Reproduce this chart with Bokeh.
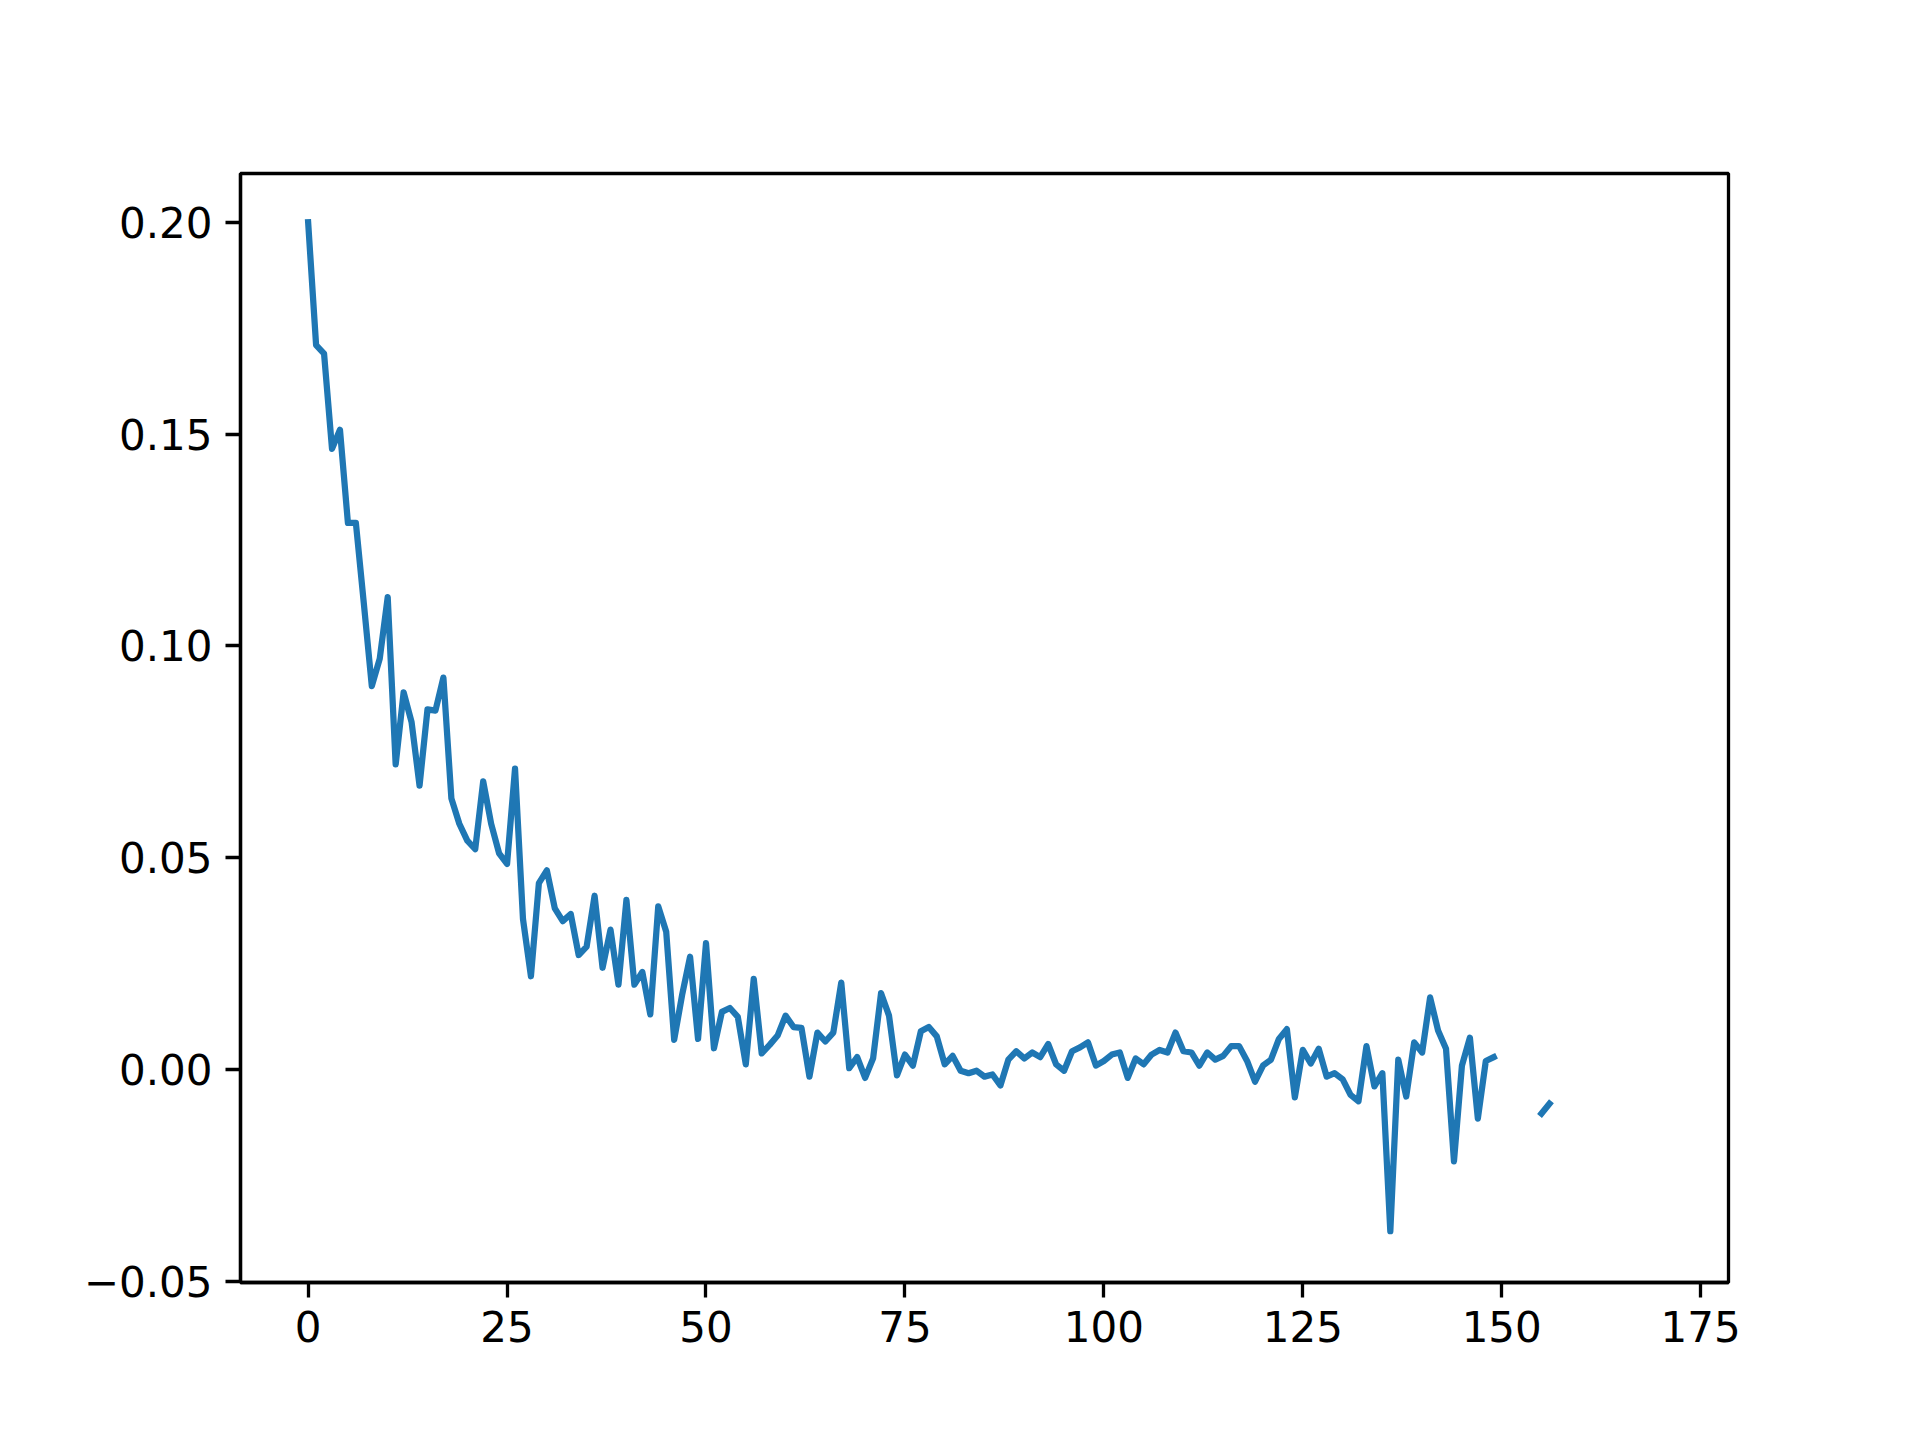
import math
from bokeh.plotting import figure
from bokeh.models import FixedTicker, Range1d
from bokeh.embed import file_html
from bokeh.resources import INLINE

nan = float("nan")

# Series values (index 0..170; gaps are NaN)
values_a = [
    0.200, 0.171, 0.169, 0.1465, 0.151, 0.129, 0.129, 0.110, 0.0905, 0.097,
    0.1115, 0.072, 0.089, 0.082, 0.067, 0.085, 0.0847, 0.0925, 0.064, 0.058,
    0.054, 0.052, 0.068, 0.058, 0.051, 0.0485, 0.071, 0.0355, 0.022, 0.044,
    0.047, 0.038, 0.035, 0.0367, 0.027, 0.029, 0.041, 0.024, 0.033, 0.020,
    0.040, 0.020, 0.023, 0.013, 0.0385, 0.0325, 0.007, 0.0176, 0.0266, 0.0072,
    0.0298, 0.005, 0.0136, 0.0145, 0.0124, 0.0012, 0.0214, 0.0038, 0.0058, 0.008,
    0.0127, 0.010, 0.0098, -0.0017, 0.0087, 0.0066, 0.0087, 0.0205, 0.0003, 0.0029,
    -0.002, 0.0026, 0.018, 0.0127, -0.0014, 0.0035, 0.0009, 0.009, 0.010, 0.0078,
    0.0012, 0.0032, -0.0003, -0.0009, -0.0003, -0.0017, -0.0012, -0.0038, 0.0023, 0.0043,
    0.0026, 0.004, 0.0029, 0.006, 0.0012, -0.0003, 0.0043, 0.0052, 0.0064, 0.0009,
    0.002, 0.0035, 0.004, -0.002, 0.0026, 0.0012, 0.0035, 0.0046, 0.004, 0.0087,
    0.0043, 0.004, 0.0009, 0.004, 0.0023, 0.0032, 0.0055, 0.0055, 0.002, -0.0029,
    0.0009, 0.0023, 0.0072, 0.0095, -0.0066, 0.0046, 0.0014, 0.0049, -0.0017, -0.0009,
    -0.0023, -0.006, -0.0075, 0.0055, -0.004, -0.0009, -0.0382, 0.0023, -0.0064, 0.0064,
    0.004, 0.017, 0.0092, 0.0049, -0.0217, 0.0009, 0.0075, -0.0116, 0.002, 0.0029,
]
values_gap = [nan, nan, nan, nan, nan]
values_b = [-0.0104, -0.0081]
values_tail = [nan] * 14

y_values = values_a + values_gap + values_b + values_tail
x_values = list(range(len(y_values)))

x_ticks = [0, 25, 50, 75, 100, 125, 150, 175]
y_ticks = [-0.05, 0.0, 0.05, 0.10, 0.15, 0.20]
y_tick_labels = ["\u22120.05", "0.00", "0.05", "0.10", "0.15", "0.20"]

p = figure(
    width=1904, height=1424,
    frame_width=1488, frame_height=1109,
    min_border_left=240, min_border_top=173,
    min_border_right=176, min_border_bottom=142,
    output_backend="svg", toolbar_location=None,
    x_range=Range1d(-8.5, 178.5), y_range=Range1d(-0.0503, 0.2115),
)
p.background_fill_color = "white"
p.border_fill_color = "white"
p.grid.visible = False
p.outline_line_color = "black"
p.outline_line_width = 3.3

p.line(x_values, y_values, line_color="#1f77b4", line_width=6.25,
       line_join="round", line_cap="square")

font = "DejaVu Sans"
for ax in (p.xaxis[0], p.yaxis[0]):
    ax.axis_line_color = "black"
    ax.axis_line_width = 3.3
    ax.major_tick_line_width = 3.3
    ax.major_tick_out = 15
    ax.major_tick_in = 0
    ax.minor_tick_line_color = None
    ax.major_label_text_font = font
    ax.major_label_text_font_size = "42px"
    ax.major_label_text_color = "black"
    ax.major_label_standoff = 13

p.xaxis[0].ticker = FixedTicker(ticks=x_ticks)
p.yaxis[0].ticker = FixedTicker(ticks=y_ticks)
p.yaxis[0].major_label_overrides = {t: l for t, l in zip(y_ticks, y_tick_labels)}

open("out.html", "w").write(file_html(p, INLINE))
